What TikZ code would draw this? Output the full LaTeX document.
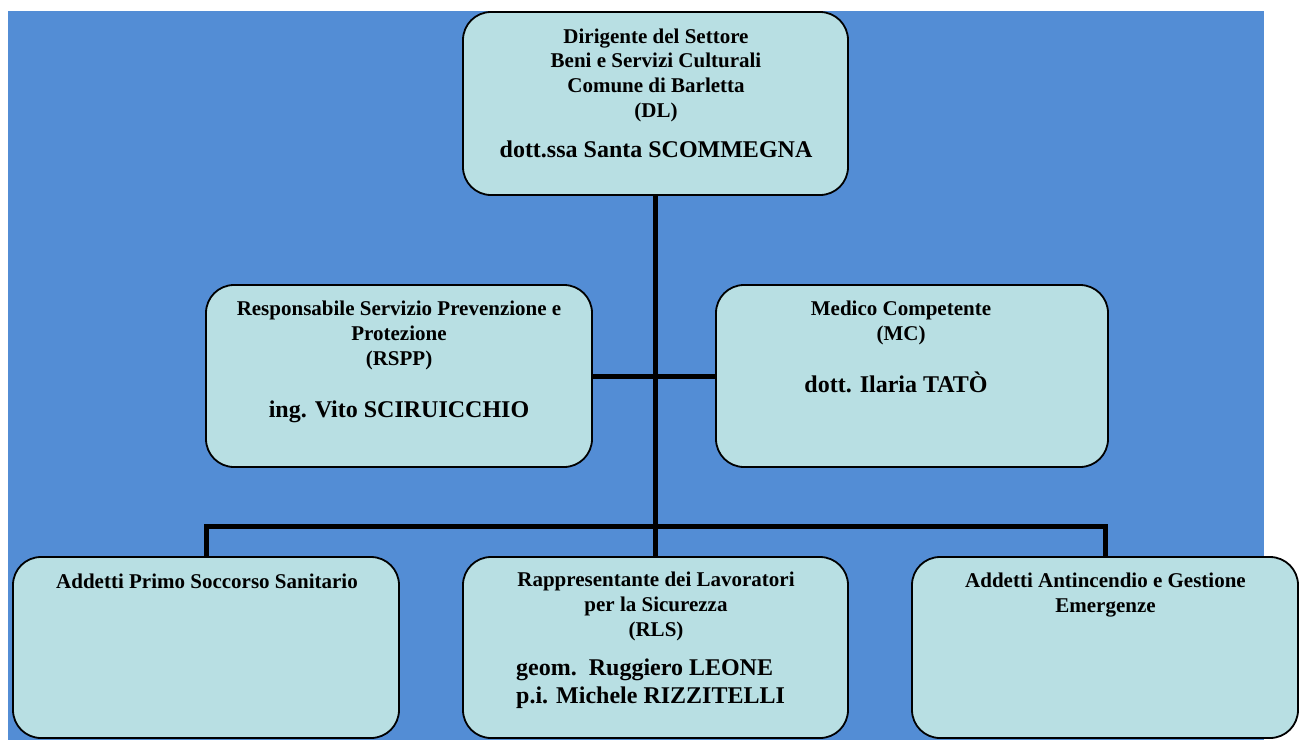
\documentclass[tikz,border=0pt]{standalone}
\usepackage{fontspec}
\setmainfont{Liberation Serif}
\definecolor{bgblue}{RGB}{83,141,213}
\definecolor{boxfill}{RGB}{184,223,227}
\pgfdeclarelayer{bg}
\pgfdeclarelayer{lines}
\pgfsetlayers{bg,lines,main}
\begin{document}
\begin{tikzpicture}[x=1pt,y=-1pt,
  box/.style={draw=black,line width=1.8pt,fill=boxfill,rounded corners=28pt,minimum height=182pt,inner sep=0pt},
  head/.style={font=\fontsize{21}{24.6}\selectfont\bfseries,align=center,anchor=base,inner sep=0pt},
  person/.style={font=\fontsize{24}{27.4}\selectfont\bfseries,align=center,anchor=base,inner sep=0pt},
  link/.style={line width=5pt,draw=black}]
\useasboundingbox (0,0) rectangle (1303,740);
\begin{pgfonlayer}{bg}
  \fill[bgblue] (8,11) rectangle (1264,740);
\end{pgfonlayer}
% boxes
\node[box,minimum width=385pt,minimum height=183pt] (dl) at (655.5,103.5) {};
\node[box,minimum width=386pt] (rspp) at (399,376) {};
\node[box,minimum width=392pt] (mc) at (912,376) {};
\node[box,minimum width=386pt,minimum height=181pt] (aps) at (206,647.5) {};
\node[box,minimum width=385pt,minimum height=181pt] (rls) at (655.5,647.5) {};
\node[box,minimum width=386pt,minimum height=181pt] (aae) at (1105,647.5) {};
% connectors
\begin{pgfonlayer}{lines}
  \draw[link] (dl.south) -- (rls.north);
  \draw[link] (rspp.east) -- (mc.west);
  \draw[link] (aps.north) -- ++(0,-30) -| (aae.north);
\end{pgfonlayer}
% texts (base anchor = baseline of the last line)
\node[head] (dlh) at (656,117) {Dirigente del Settore\\Beni e Servizi Culturali\\Comune di Barletta\\(DL)};
\node[person] (dln) at (656,157) {dott.ssa Santa SCOMMEGNA};
\node[head] (rsh) at (399,365) {Responsabile Servizio Prevenzione e\\Protezione\\(RSPP)};
\node[person] (rsn) at (399,417) {ing. Vito SCIRUICCHIO};
\node[head] (mch) at (901,340) {Medico Competente\\(MC)};
\node[person] (mcn) at (896,392) {dott. Ilaria TATÒ};
\node[head] (apsh) at (207,588) {Addetti Primo Soccorso Sanitario};
\node[head] (rlsh) at (656,636) {Rappresentante dei Lavoratori\\per la Sicurezza\\(RLS)};
\node[person,align=left,anchor=base west] (rlsn) at (516,703) {geom.\ \ Ruggiero LEONE\\p.i. Michele RIZZITELLI};
\node[head] (aaeh) at (1105.5,612) {Addetti Antincendio e Gestione\\Emergenze};
\end{tikzpicture}
\end{document}
